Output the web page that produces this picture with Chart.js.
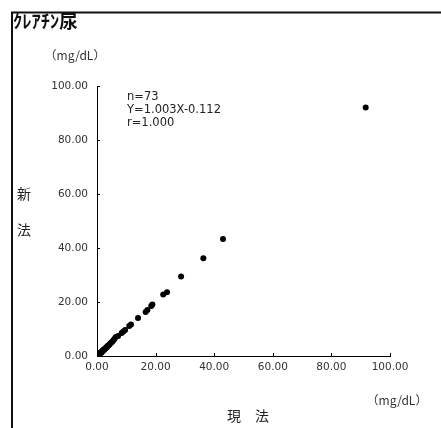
<!DOCTYPE html>
<html>
<head>
<meta charset="utf-8">
<script src="https://cdn.jsdelivr.net/npm/chart.js@4/dist/chart.umd.min.js"></script>
<style>
html,body{margin:0;padding:0;background:#fff;}
#wrap{position:relative;width:441px;height:428px;}
canvas{display:block;}
</style>
</head>
<body>
<div id="wrap"><canvas id="c" width="441" height="428"></canvas></div>
<script>
// 現法 (x) values
const currentMethod = [91.7,43.0,36.3,28.7,23.9,22.6,18.9,18.5,17.2,16.6,14.0,11.6,11.0,9.6,9.0,8.4,7.2,6.4,6.0,5.6,5.2,4.8,4.5,4.2,3.9,3.6,3.4,3.2,3.0,2.8,2.6,2.5,2.3,2.2,2.0,1.9,1.8,1.7,1.6,1.5,1.4,1.3,1.2,1.1,1.0,0.95,0.9,0.85,0.8,0.75,0.7,0.65,0.6,0.55,0.5,0.48,0.45,0.42,0.4,0.38,0.35,0.32,0.3,0.28,0.25,0.22,0.2,0.18,0.15,0.12,0.1,0.08,0.05];
// 新法 (y) values
const newMethod = [92.0,43.3,36.2,29.4,23.6,22.8,19.1,18.5,17.0,16.3,14.1,11.7,11.1,9.6,9.1,8.5,7.4,7.0,6.4,5.8,5.3,4.9,4.6,4.2,3.9,3.7,3.4,3.1,3.0,2.8,2.6,2.4,2.3,2.1,2.0,1.9,1.7,1.6,1.5,1.4,1.4,1.2,1.1,1.1,1.0,0.9,0.85,0.8,0.75,0.7,0.65,0.6,0.55,0.5,0.45,0.42,0.4,0.38,0.35,0.32,0.3,0.28,0.25,0.22,0.2,0.18,0.15,0.14,0.12,0.1,0.08,0.06,0.04];
const tickValues = [0,20,40,60,80,100];
const titleText = "ｸﾚｱﾁﾝ尿";
const unitText = "（mg/dL）";
const yAxisLabel = ["新","法"];
const xAxisLabel = "現　法";
const statsLines = ["n=73","Y=1.003X-0.112","r=1.000"];

const points = currentMethod.map((x,i)=>({x:x,y:newMethod[i]}));
const numFont = {family:"'DejaVu Sans', sans-serif", size:10.5};

const decor = {
  id:'decor',
  beforeDraw(chart){
    const ctx = chart.ctx;
    ctx.save();
    ctx.fillStyle = '#fff';
    ctx.fillRect(0,0,chart.width,chart.height);
    ctx.restore();
  },
  afterDraw(chart){
    const ctx = chart.ctx;
    const xs = chart.scales.x, ys = chart.scales.y;
    ctx.save();
    // frame lines
    ctx.strokeStyle = '#111';
    ctx.lineWidth = 2;
    ctx.beginPath();
    ctx.moveTo(12,428); ctx.lineTo(12,12.5); ctx.lineTo(441,12.5);
    ctx.stroke();
    // inward ticks
    ctx.strokeStyle = '#000';
    ctx.lineWidth = 1;
    ctx.beginPath();
    tickValues.forEach(v=>{
      const px = Math.round(xs.getPixelForValue(v))+0.5;
      ctx.moveTo(px, xs.top); ctx.lineTo(px, xs.top-3);
      const py = Math.round(ys.getPixelForValue(v))+0.5;
      ctx.moveTo(ys.right, py); ctx.lineTo(ys.right+3, py);
    });
    ctx.stroke();
    // title
    ctx.fillStyle = '#111';
    ctx.textBaseline = 'alphabetic';
    ctx.textAlign = 'left';
    ctx.font = "bold 18.5px 'Noto Sans CJK JP'";
    ctx.fillText(titleText, 13, 28);
    // units
    ctx.fillStyle = '#333';
    ctx.textBaseline = 'middle';
    ctx.textAlign = 'center';
    ctx.font = "12px 'Noto Sans CJK JP'";
    ctx.fillText(unitText, 75, 55);
    ctx.fillText(unitText, 397, 400);
    // axis labels
    ctx.fillStyle = '#222';
    ctx.font = "14px 'Noto Sans CJK JP'";
    ctx.fillText(yAxisLabel[0], 24, 194);
    ctx.fillText(yAxisLabel[1], 24, 230);
    ctx.fillText(xAxisLabel, 248, 416);
    // stats
    ctx.textAlign = 'left';
    ctx.font = "11.5px 'DejaVu Sans'";
    statsLines.forEach((s,i)=>ctx.fillText(s, 127, 97+i*13));
    ctx.restore();
  }
};

new Chart(document.getElementById('c'), {
  type:'scatter',
  data:{datasets:[{
    data:points,
    backgroundColor:'#000',
    borderColor:'#000',
    pointRadius:3,
    pointHoverRadius:3,
    borderWidth:0
  }]},
  options:{
    responsive:false,
    animation:false,
    events:[],
    layout:{padding:{left:0,top:86,right:51,bottom:51}},
    plugins:{legend:{display:false},tooltip:{enabled:false},title:{display:false}},
    scales:{
      x:{
        type:'linear',min:0,max:100,
        afterFit(s){s.height=21;},
        grid:{display:false,drawTicks:false},
        border:{display:true,color:'#000',width:1},
        ticks:{stepSize:20,padding:5,color:'#333',font:numFont,maxRotation:0,
          callback:v=>v.toFixed(2)}
      },
      y:{
        type:'linear',min:0,max:100,
        afterFit(s){s.width=97;},
        grid:{display:false,drawTicks:false},
        border:{display:true,color:'#000',width:1},
        ticks:{stepSize:20,padding:9,color:'#333',font:numFont,
          callback:v=>v.toFixed(2)}
      }
    }
  },
  plugins:[decor]
});
</script>
</body>
</html>
